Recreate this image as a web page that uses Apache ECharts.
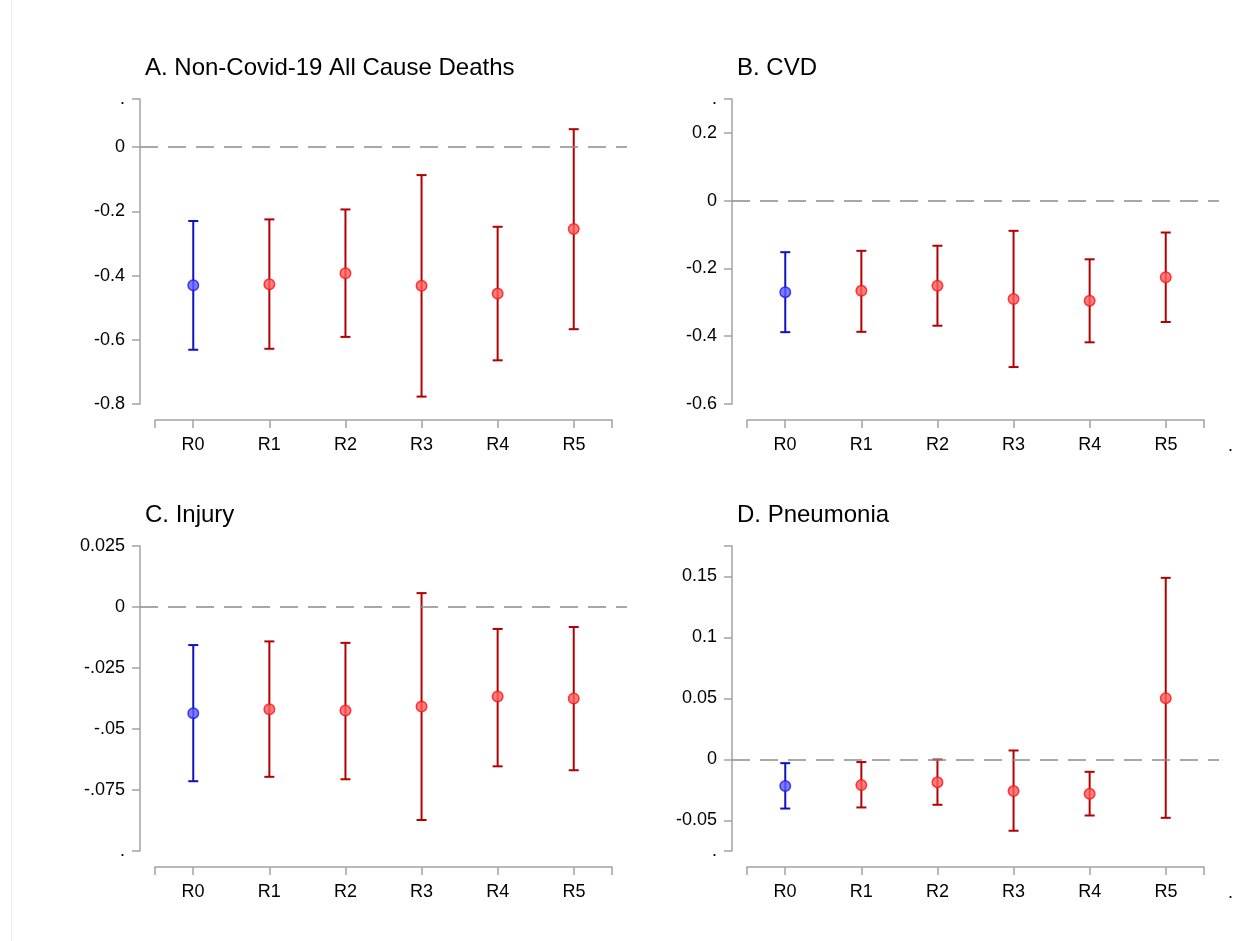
<!DOCTYPE html>
<html>
<head>
<meta charset="utf-8">
<script src="https://cdn.jsdelivr.net/npm/echarts@6/dist/echarts.min.js"></script>
<style>
  html, body { margin: 0; padding: 0; background: #ffffff; }
  #edge { position: absolute; left: 11px; top: 0; width: 1px; height: 941px; background: #ededed; }
  #chart { position: absolute; left: 0; top: 0; width: 1248px; height: 941px; }
</style>
</head>
<body>
<div id="edge"></div>
<div id="chart"></div>
<script>
// ---------------- data ----------------
const categories = ['R0', 'R1', 'R2', 'R3', 'R4', 'R5'];

const titles = ['A. Non-Covid-19 All Cause Deaths', 'B. CVD', 'C. Injury', 'D. Pneumonia'];

// Panel A
const estA  = [-0.430, -0.427, -0.393, -0.432, -0.456, -0.255];
const lowA  = [-0.631, -0.628, -0.591, -0.777, -0.664, -0.567];
const highA = [-0.230, -0.225, -0.194, -0.087, -0.248, 0.056];
const yTicksA  = [-0.8, -0.6, -0.4, -0.2, 0, 0.15];
const yLabelsA = ['-0.8', '-0.6', '-0.4', '-0.2', '0', '.'];

// Panel B
const estB  = [-0.270, -0.266, -0.251, -0.290, -0.295, -0.226];
const lowB  = [-0.388, -0.387, -0.369, -0.491, -0.418, -0.358];
const highB = [-0.152, -0.148, -0.133, -0.089, -0.173, -0.094];
const yTicksB  = [-0.6, -0.4, -0.2, 0, 0.2, 0.3];
const yLabelsB = ['-0.6', '-0.4', '-0.2', '0', '0.2', '.'];

// Panel C
const estC  = [-0.0435, -0.0419, -0.0424, -0.0408, -0.0367, -0.0375];
const lowC  = [-0.0714, -0.0696, -0.0706, -0.0873, -0.0653, -0.0669];
const highC = [-0.0156, -0.0141, -0.0147, 0.0057, -0.0090, -0.0082];
const yTicksC  = [-0.1, -0.075, -0.05, -0.025, 0, 0.025];
const yLabelsC = ['.', '-.075', '-.05', '-.025', '0', '0.025'];

// Panel D
const estD  = [-0.0218, -0.0210, -0.0186, -0.0259, -0.0281, 0.0503];
const lowD  = [-0.0402, -0.0393, -0.0371, -0.0584, -0.0459, -0.0478];
const highD = [-0.0030, -0.0021, 0.0000, 0.0074, -0.0101, 0.1489];
const yTicksD  = [-0.075, -0.05, 0, 0.05, 0.1, 0.15, 0.175];
const yLabelsD = ['.', '-0.05', '0', '0.05', '0.1', '0.15', ''];

const xTickValues  = [-0.5, 0, 1, 2, 3, 4, 5, 5.5];
const xLabelValues = [0, 1, 2, 3, 4, 5];

// ---------------- layout / style ----------------
const FONT = '"Liberation Sans", Arial, Helvetica, sans-serif';
const AXIS_COLOR = '#a3a3a3';
const BLUE_LINE = '#1010c4', BLUE_FILL = '#5c5cff', BLUE_EDGE = '#1a1af0';
const RED_LINE = '#b30000', RED_FILL = '#ff5c5c', RED_EDGE = '#ff1010';

const panels = [
  { est: estA, low: lowA, high: highA, ticks: yTicksA, labels: yLabelsA, dx: 0,   dy: 0,   xDot: false },
  { est: estB, low: lowB, high: highB, ticks: yTicksB, labels: yLabelsB, dx: 592, dy: 0,   xDot: true },
  { est: estC, low: lowC, high: highC, ticks: yTicksC, labels: yLabelsC, dx: 0,   dy: 447, xDot: false },
  { est: estD, low: lowD, high: highD, ticks: yTicksD, labels: yLabelsD, dx: 592, dy: 447, xDot: true }
];

const grid = [], xAxis = [], yAxis = [], series = [], title = [];

panels.forEach((p, k) => {
  const plotLeft = 140 + p.dx, plotTop = 99 + p.dy, plotW = 487, plotH = 305;
  const gPlot = 2 * k, gX = 2 * k + 1;

  title.push({
    text: titles[k], left: 140 + p.dx, top: 51 + p.dy,
    textStyle: { fontFamily: FONT, fontSize: 24, fontWeight: 'normal', color: '#000' }
  });

  grid.push({ left: plotLeft, top: plotTop, width: plotW, height: plotH });
  grid.push({ left: plotLeft + 15, top: plotTop + plotH, width: plotW - 30, height: 16 });

  // plot grid axes
  xAxis.push({ type: 'value', gridIndex: gPlot, min: -0.7, max: 5.7, show: false });
  yAxis.push({
    type: 'value', gridIndex: gPlot, position: 'left',
    min: p.ticks[0], max: p.ticks[p.ticks.length - 1],
    splitLine: { show: false },
    axisLine: { show: true, onZero: false, lineStyle: { color: AXIS_COLOR, width: 1.5 } },
    axisTick: { show: true, length: 8, customValues: p.ticks, lineStyle: { color: AXIS_COLOR, width: 1.5 } },
    axisLabel: {
      customValues: p.ticks, margin: 15, fontFamily: FONT, fontSize: 18, color: '#000',
      formatter: v => { const i = p.ticks.indexOf(v); return i >= 0 ? p.labels[i] : ''; }
    }
  });

  // x display axis
  const xd = {
    type: 'value', gridIndex: gX, min: -0.5, max: 5.5, position: 'bottom',
    splitLine: { show: false },
    axisLine: { show: true, onZero: false, lineStyle: { color: AXIS_COLOR, width: 1.5 } },
    axisTick: { show: true, length: 8, customValues: xTickValues, lineStyle: { color: AXIS_COLOR, width: 1.5 } },
    axisLabel: {
      customValues: xLabelValues, margin: 16, fontFamily: FONT, fontSize: 18, color: '#000',
      formatter: v => categories[Math.round(v)] || ''
    }
  };
  if (p.xDot) {
    xd.name = '.';
    xd.nameLocation = 'end';
    xd.nameGap = 24;
    xd.nameTextStyle = { fontFamily: FONT, fontSize: 18, color: '#000', verticalAlign: 'top', lineHeight: 52 };
  }
  xAxis.push(xd);
  yAxis.push({ type: 'value', gridIndex: gX, min: 0, max: 1, show: false });

  // error bars
  series.push({
    type: 'custom', xAxisIndex: gPlot, yAxisIndex: gPlot, silent: true, z: 3,
    data: categories.map((c, i) => [i, p.low[i], p.high[i]]),
    renderItem: (params, api) => {
      const x = api.value(0);
      const top = api.coord([x, api.value(2)]);
      const bot = api.coord([x, api.value(1)]);
      const col = x === 0 ? BLUE_LINE : RED_LINE;
      const hw = 5;
      const st = { stroke: col, lineWidth: 2 };
      return {
        type: 'group', children: [
          { type: 'line', shape: { x1: top[0], y1: top[1], x2: bot[0], y2: bot[1] }, style: st },
          { type: 'line', shape: { x1: top[0] - hw, y1: top[1], x2: top[0] + hw, y2: top[1] }, style: st },
          { type: 'line', shape: { x1: bot[0] - hw, y1: bot[1], x2: bot[0] + hw, y2: bot[1] }, style: st }
        ]
      };
    }
  });

  // point estimates + zero reference line
  series.push({
    type: 'scatter', xAxisIndex: gPlot, yAxisIndex: gPlot, silent: true, z: 4,
    symbol: 'circle', symbolSize: 10.5,
    data: categories.map((c, i) => ({
      value: [i, p.est[i]],
      itemStyle: i === 0
        ? { color: BLUE_FILL, borderColor: BLUE_EDGE, borderWidth: 1.5 }
        : { color: RED_FILL, borderColor: RED_EDGE, borderWidth: 1.5 }
    })),
    markLine: {
      silent: true, symbol: 'none', label: { show: false }, animation: false,
      lineStyle: { color: '#8c8c8c', width: 1.5, type: [18, 10] },
      data: [{ yAxis: 0 }]
    }
  });
});

const chart = echarts.init(document.getElementById('chart'), null, { renderer: 'canvas' });
chart.setOption({
  backgroundColor: 'transparent',
  animation: false,
  title, grid, xAxis, yAxis, series
});
</script>
</body>
</html>
